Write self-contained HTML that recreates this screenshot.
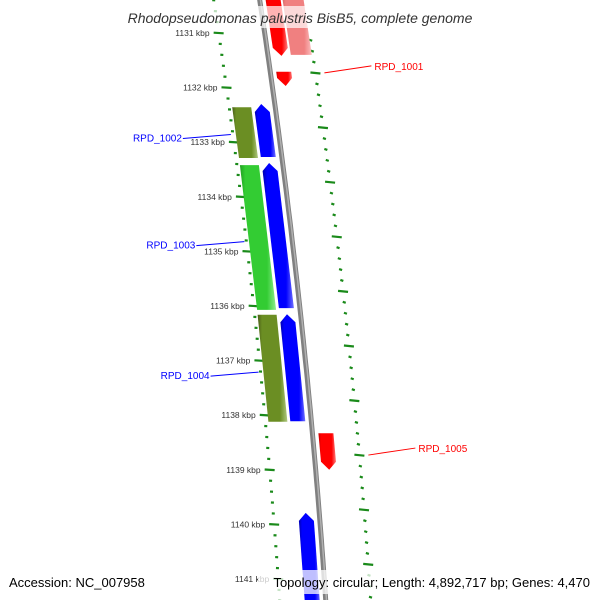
<!DOCTYPE html>
<html><head><meta charset="utf-8"><style>
html,body{margin:0;padding:0;background:#fff;}
svg{display:block;font-family:"Liberation Sans","DejaVu Sans",sans-serif;}
</style></head><body>
<svg id="map" width="600" height="600" viewBox="0 0 600 600">
<defs>
<linearGradient id="gBlue" x1="0" x2="1" y1="0" y2="0"><stop offset="0" stop-color="#0000b0"/><stop offset="0.15" stop-color="#0000ff"/><stop offset="0.75" stop-color="#0000ff"/><stop offset="1" stop-color="#7070ff"/></linearGradient>
<linearGradient id="gRed" x1="0" x2="1" y1="0" y2="0"><stop offset="0" stop-color="#c00000"/><stop offset="0.15" stop-color="#ff0000"/><stop offset="0.75" stop-color="#ff0000"/><stop offset="1" stop-color="#ff8080"/></linearGradient>
<linearGradient id="gPink" x1="0" x2="1" y1="0" y2="0"><stop offset="0" stop-color="#d06060"/><stop offset="0.15" stop-color="#f08080"/><stop offset="0.75" stop-color="#f08080"/><stop offset="1" stop-color="#fbc0c0"/></linearGradient>
<linearGradient id="gGreen" x1="0" x2="1" y1="0" y2="0"><stop offset="0" stop-color="#20a020"/><stop offset="0.15" stop-color="#33cc33"/><stop offset="0.75" stop-color="#33cc33"/><stop offset="1" stop-color="#90ee90"/></linearGradient>
<linearGradient id="gOlive" x1="0" x2="1" y1="0" y2="0"><stop offset="0" stop-color="#4a5e18"/><stop offset="0.15" stop-color="#6b8e23"/><stop offset="0.75" stop-color="#6b8e23"/><stop offset="1" stop-color="#b0c880"/></linearGradient>
</defs>
<g id="ticks"></g>
<g id="backbone"></g>
<g id="genes"></g>
<g id="labels"></g>
<rect x="100" y="6" width="400" height="22" fill="#fff" opacity="0.7"/>
<text x="300" y="23" text-anchor="middle" font-size="14" font-style="italic" fill="#333">Rhodopseudomonas palustris BisB5, complete genome</text>
<text x="9" y="587" font-size="13" fill="#000">Accession: NC_007958</text>
<rect x="258" y="570" width="342" height="24" fill="#fff" opacity="0.75"/>
<text x="590" y="587" text-anchor="end" font-size="13" fill="#000">Topology: circular; Length: 4,892,717 bp; Genes: 4,470</text>
</svg>
<script>
// ---- data ----
const majorKbp = [1131,1132,1133,1134,1135,1136,1137,1138,1139,1140,1141];
const tickLabels = ["1131 kbp","1132 kbp","1133 kbp","1134 kbp","1135 kbp","1136 kbp","1137 kbp","1138 kbp","1139 kbp","1140 kbp","1141 kbp"];
const geneNames = ["red-top","pink-top","RPD_1001","RPD_1002","olive-1","green-1","RPD_1003","olive-2","RPD_1004","RPD_1005","RPD_1006"];
const geneStart = [1130.22,1130.22,1131.71,1132.30,1132.36,1133.42,1133.38,1136.16,1136.15,1138.33,1139.79];
const geneEnd   = [1131.42,1131.40,1131.97,1133.27,1133.29,1136.07,1136.04,1138.12,1138.11,1139.00,1141.57];
const geneTrack = ["fwd","fwd2","fwd","rev","rev2","rev2","rev","rev2","rev","fwd","rev"];
const geneArrow = ["end","none","end","start","none","none","start","none","start","end","start"];
const geneColor = ["gRed","gPink","gRed","gBlue","gOlive","gGreen","gBlue","gOlive","gBlue","gRed","gBlue"];
const labelNames = ["RPD_1001","RPD_1002","RPD_1003","RPD_1004","RPD_1005","RPD_1006"];
const labelKbp = [1131.73,1132.86,1134.82,1137.21,1138.73,1141.61];
const labelSide = ["right","left","left","left","right","left"];

// ---- scales ----
const KBP0=1131, Y0=33, PX=54.6;
function yOf(k){return Y0+(k-KBP0)*PX;}
function bx(y){const d=y-300;return 299+0.11*d-7e-5*d*d;}
const NS='http://www.w3.org/2000/svg';
function mk(tag,attrs,parent){const e=document.createElementNS(NS,tag);for(const k in attrs)e.setAttribute(k,attrs[k]);parent.appendChild(e);return e;}

// backbone
const bb=document.getElementById('backbone');
let pts=[];for(let y=-10;y<=610;y+=10)pts.push(bx(y).toFixed(1)+','+y);
let p1=mk('polyline',{points:pts.join(' '),fill:'none',stroke:'#808080','stroke-width':5},bb);


let p2=mk('polyline',{points:pts.map(s=>{const[a,b]=s.split(',');return (+a+0.8)+','+b}).join(' '),fill:'none',stroke:'#b0b0b0','stroke-width':1.5},bb);



// ticks
const tg=document.getElementById('ticks');
const INNER=-46, OUTER=45;
for(let k=1130;k<=1142;k+=0.2){
  const kk=Math.round(k*10)/10;
  const isMajor=Math.abs(kk-Math.round(kk))<0.01;
  const y=yOf(kk); if(y<-5||y>605) continue;
  const x=bx(y)+INNER; const half=isMajor?5:1.5;
  let t=mk('line',{x1:x-half,y1:y-0.5*half*0.12,x2:x+half,y2:y+0.5*half*0.12,stroke:'#1a8a1a','stroke-width':isMajor?2.2:2.2},tg);
  
  
  // outer ruler offset
  const y2=y+40; if(y2>-5&&y2<605){
    const x2=bx(y2)+OUTER;
    let o=mk('line',{x1:x2-half,y1:y2-0.5,x2:x2+half,y2:y2+0.5,stroke:'#1a8a1a','stroke-width':2.2},tg);
    
    
  }
}
majorKbp.forEach((k,i)=>{
  const y=yOf(k);const x=bx(y)+INNER-9;
  let t=mk('text',{x:x,y:y+3,'text-anchor':'end','font-size':8.5,fill:'#333'},tg);
  t.textContent=tickLabels[i];
  
  
});

// genes
const gg=document.getElementById('genes');
const trackOff={fwd:[6,21],fwd2:[23,44],rev:[-21,-6],rev2:[-43,-24]};
geneStart.forEach((s,i)=>{
  const y1=yOf(s), y2=yOf(geneEnd[i]); const [a,b]=trackOff[geneTrack[i]];
  const head=8; let poly=[];
  const X=(y,o)=>(bx(y)+o).toFixed(1);
  const mid=(a+b)/2;
  if(geneArrow[i]==='start'){
    poly=[[X(y1,mid),y1],[X(y1+head,b),y1+head],[X(y2,b),y2],[X(y2,a),y2],[X(y1+head,a),y1+head]];
  }else if(geneArrow[i]==='end'){
    poly=[[X(y1,a),y1],[X(y1,b),y1],[X(y2-head,b),y2-head],[X(y2,mid),y2],[X(y2-head,a),y2-head]];
  }else{
    poly=[[X(y1,a),y1],[X(y1,b),y1],[X(y2,b),y2],[X(y2,a),y2]];
  }
  let g=mk('polygon',{points:poly.map(p=>p.join(',')).join(' '),fill:'url(#'+geneColor[i]+')'},gg);
  
  
});

// labels
const lg=document.getElementById('labels');
labelNames.forEach((n,i)=>{
  const y=yOf(labelKbp[i]);
  const right=labelSide[i]==='right';
  const col=right?'#ff0000':'#0000ff';
  let x1,x2,ty,tx;
  if(right){x1=bx(y)+OUTER+9;x2=x1+47;tx=x2+3;ty=y-6;}
  else{x1=bx(y)+INNER-2;x2=x1-48;tx=x2-1;ty=y+4;}
  let l=mk('line',{x1:x1,y1:y,x2:x2,y2:right?y-7:y+4,stroke:col,'stroke-width':1},lg);
  
  
  let t=mk('text',{x:tx,y:ty+(right?3:0)+(right?0:3),'text-anchor':right?'start':'end','font-size':10,fill:col},lg);
  t.textContent=n;
  
  
});
</script>
</body></html>
